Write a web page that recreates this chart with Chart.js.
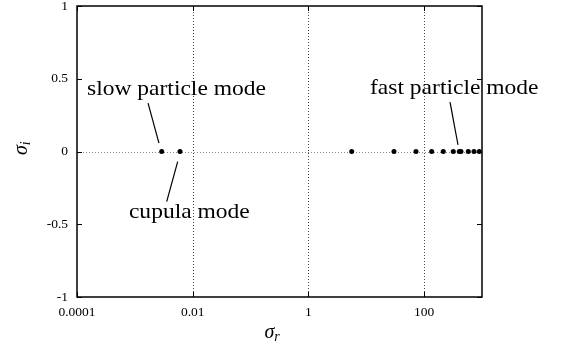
<!DOCTYPE html>
<html>
<head>
<meta charset="utf-8">
<script src="https://cdn.jsdelivr.net/npm/chart.js@4.4.0/dist/chart.umd.min.js"></script>
<style>
  html, body { margin: 0; padding: 0; background: #fff; }
  canvas { display: block; }
</style>
</head>
<body>
<canvas id="modes" width="562" height="349"></canvas>
<script>
// eigenvalues (sigma_r, sigma_i)
var sigmaR = [0.00291, 0.00603, 5.6, 30.1, 72.3, 135, 214, 319, 405, 433, 579, 727, 898];
var sigmaI = [0, 0, 0, 0, 0, 0, 0, 0, 0, 0, 0, 0, 0];

var xTicks = [0.0001, 0.01, 1, 100];
var yTicks = [-1, -0.5, 0, 0.5, 1];
var xGrid = [0.01, 1, 100];
var yGrid = [0];

// labels: text, text anchor (x, y), pointer line from/to, in data units
var noteText = ['slow particle mode', 'cupula mode', 'fast particle mode'];
var noteAt = [[0.000149, 0.388], [0.00079, -0.457], [11.6, 0.395]];
var noteFrom = [[0.00169, 0.333], [0.0055, -0.07], [280, 0.34]];
var noteTo = [[0.00261, 0.058], [0.00355, -0.345], [385, 0.045]];

var points = [];
for (var i in sigmaR) {
  points.push({x: sigmaR[i], y: sigmaI[i]});
}

var serif = "'Liberation Serif', 'Times New Roman', serif";

var framePlugin = {
  id: 'frame',
  beforeDatasetsDraw: function(chart) {
    var c = chart.ctx, a = chart.chartArea;
    var xs = chart.scales.x, ys = chart.scales.y;
    c.save();
    c.strokeStyle = '#444';
    c.lineWidth = 1;
    c.setLineDash([1, 2]);
    xGrid.forEach(function(v) {
      var px = Math.round(xs.getPixelForValue(v)) + 0.5;
      c.beginPath(); c.moveTo(px, a.top); c.lineTo(px, a.bottom); c.stroke();
    });
    c.strokeStyle = '#888';
    yGrid.forEach(function(v) {
      var py = Math.round(ys.getPixelForValue(v)) + 0.5;
      c.beginPath(); c.moveTo(a.left, py); c.lineTo(a.right, py); c.stroke();
    });
    c.restore();
  },
  afterDraw: function(chart) {
    var c = chart.ctx, a = chart.chartArea;
    var xs = chart.scales.x, ys = chart.scales.y;
    c.save();
    c.strokeStyle = '#000';
    c.lineWidth = 1.5;
    c.strokeRect(a.left, a.top, a.right - a.left, a.bottom - a.top);
    c.lineWidth = 1;
    xTicks.forEach(function(v) {
      var px = Math.round(xs.getPixelForValue(v)) + 0.5;
      c.beginPath();
      c.moveTo(px, a.bottom); c.lineTo(px, a.bottom - 5);
      c.moveTo(px, a.top); c.lineTo(px, a.top + 5);
      c.stroke();
    });
    yTicks.forEach(function(v) {
      var py = Math.round(ys.getPixelForValue(v)) + 0.5;
      c.beginPath();
      c.moveTo(a.left, py); c.lineTo(a.left + 5, py);
      c.moveTo(a.right, py); c.lineTo(a.right - 5, py);
      c.stroke();
    });

    // annotations
    c.fillStyle = '#000';
    c.font = '21px ' + serif;
    c.textBaseline = 'alphabetic';
    c.textAlign = 'left';
    for (var k = 0; k < noteText.length; k++) {
      var tx = xs.getPixelForValue(noteAt[k][0]);
      var ty = ys.getPixelForValue(noteAt[k][1]);
      c.save();
      c.translate(tx, ty);
      c.scale(1.12, 1);
      c.fillText(noteText[k], 0, 0);
      c.restore();
      c.lineWidth = 1.2;
      c.beginPath();
      c.moveTo(xs.getPixelForValue(noteFrom[k][0]), ys.getPixelForValue(noteFrom[k][1]));
      c.lineTo(xs.getPixelForValue(noteTo[k][0]), ys.getPixelForValue(noteTo[k][1]));
      c.stroke();
    }

    // axis titles
    var cx = (a.left + a.right) / 2;
    c.font = 'italic 20px ' + serif;
    var w = c.measureText('σ').width;
    c.fillText('σ', cx - 15, 338);
    c.font = 'italic 14px ' + serif;
    c.fillText('r', cx - 15 + w, 341);

    c.translate(27, 155);
    c.rotate(-Math.PI / 2);
    c.font = 'italic 20px ' + serif;
    c.fillText('σ', 0, 0);
    c.font = 'italic 14px ' + serif;
    c.fillText('i', w, 3);
    c.restore();
  }
};

var ctx = document.getElementById('modes');
var modeChart = new Chart(ctx, {
  type: 'scatter',
  data: {
    datasets: [{
      label: 'modes',
      data: points,
      backgroundColor: '#000',
      borderColor: '#000',
      pointRadius: 2.5,
      pointHoverRadius: 2.5,
      borderWidth: 0
    }]
  },
  options: {
    responsive: false,
    animation: false,
    devicePixelRatio: 1,
    layout: { padding: { top: 6, right: 80, left: 0, bottom: 0 } },
    plugins: { legend: { display: false }, tooltip: { enabled: false } },
    scales: {
      x: {
        type: 'logarithmic',
        min: 0.0001,
        max: 1000,
        grid: { display: false, drawTicks: false },
        border: { display: false },
        afterBuildTicks: function(scale) {
          scale.ticks = xTicks.map(function(v) { return {value: v}; });
        },
        afterFit: function(scale) {
          scale.height = 52;
          scale.paddingLeft = 0;
          scale.paddingRight = 0;
        },
        ticks: {
          color: '#000',
          font: { family: serif, size: 13.5 },
          padding: 7,
          maxRotation: 0,
          autoSkip: false,
          callback: function(v) { return String(v); }
        }
      },
      y: {
        min: -1,
        max: 1,
        grid: { display: false, drawTicks: false },
        border: { display: false },
        afterBuildTicks: function(scale) {
          scale.ticks = yTicks.map(function(v) { return {value: v}; });
        },
        afterFit: function(scale) {
          scale.width = 77;
          scale.paddingTop = 0;
          scale.paddingBottom = 0;
        },
        ticks: {
          color: '#000',
          font: { family: serif, size: 13.5 },
          padding: 9,
          callback: function(v) { return String(v); }
        }
      }
    }
  },
  plugins: [framePlugin]
});
</script>
</body>
</html>
